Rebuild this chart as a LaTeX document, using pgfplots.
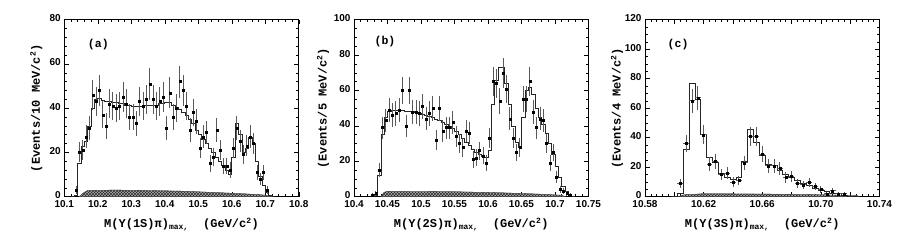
\documentclass[border=0pt]{standalone}
\usepackage{fontspec}
\setmainfont{Liberation Sans}
\setsansfont{Liberation Sans}
\setmonofont{Liberation Mono}
\usepackage{pgfplots}
\pgfplotsset{compat=1.18}
\usetikzlibrary{patterns}

\pgfplotsset{
  panel/.style={
    scale only axis, width=234.5pt, height=177pt,
    anchor=south west,
    axis line style={line width=0.6pt},
    tick align=inside,
    major tick length=4.5pt, minor tick length=2.5pt,
    every tick/.style={black, line width=0.5pt},
    tick label style={font=\sffamily\bfseries\fontsize{10}{11}\selectfont},
    yticklabel style={yshift=1.5pt},
    xticklabel style={yshift=-0.5pt},
    /pgf/number format/assume math mode=true,
    label style={font=\ttfamily\bfseries\fontsize{12}{13}\selectfont},
    x label style={at={(axis description cs:0.5,0)}, anchor=center, yshift=-28pt},
    y label style={at={(axis description cs:0,0.5)}, anchor=center, rotate=0},
    ymin=0,
  },
  pts/.style={only marks, mark=square*, mark size=1pt, black,
    error bars/y dir=both, error bars/y explicit,
    error bars/error bar style={black!65, line width=0.8pt}, error bars/error mark=none},
  fit/.style={const plot, no marks, black!85, line width=0.6pt},
  bkg/.style={draw=black!70, line width=0.3pt, preaction={fill=black!30}, pattern=crosshatch, pattern color=black!85},
}

\begin{document}
\begin{tikzpicture}
\path[use as bounding box] (-64.3pt,-48.3pt) rectangle (840.7pt,196.7pt);

% ---------------- (a) ----------------
\begin{axis}[panel, at={(0pt,0pt)},
  xmin=10.1, xmax=10.8, ymax=80,
  xtick={10.1,10.2,10.3,10.4,10.5,10.6,10.7,10.8},
  xticklabels={10.1,10.2,10.3,10.4,10.5,10.6,10.7,10.8},
  ytick={0,20,40,60,80},
  minor x tick num=4, minor y tick num=4,
  xlabel={M(Υ(1S)π)\textsubscript{max,}\ \ (GeV/c\textsuperscript{2})},
  ylabel={(Events/10 MeV/c\textsuperscript{2})},
  y label style={yshift=28pt},
]
\addplot[bkg] coordinates {(10.145,0)(10.155,1.5)(10.17,2.8)(10.25,3)(10.35,2.8)(10.45,2.5)(10.55,1.9)(10.65,1.2)(10.71,0.6)(10.72,0)} \closedcycle;
\addplot[fit] coordinates {(10.12,0)(10.13,0.5)(10.14,15)(10.15,23)(10.16,25)(10.17,32)(10.18,40)(10.19,44)(10.20,44.5)(10.21,43.5)(10.22,43)(10.23,43)(10.24,42.5)(10.25,42.5)(10.26,42)(10.27,42)(10.28,41.5)(10.29,41.5)(10.30,41)(10.31,41)(10.32,41)(10.33,41)(10.34,41.5)(10.35,41.5)(10.36,41.5)(10.37,41.5)(10.38,42)(10.39,42)(10.40,42.5)(10.41,42.5)(10.42,41.5)(10.43,40.5)(10.44,39.5)(10.45,38)(10.46,37)(10.47,35)(10.48,33)(10.49,30)(10.50,28)(10.51,26)(10.52,24)(10.53,22)(10.54,20)(10.55,18)(10.56,16)(10.57,14)(10.58,12)(10.59,10)(10.60,18)(10.61,33)(10.62,28)(10.63,20)(10.64,22)(10.65,27)(10.66,24)(10.67,16)(10.68,9)(10.69,5)(10.70,2)(10.71,0.5)(10.72,0)(10.73,0)};
\addplot[pts] table[x=x,y=y,y error=e] {
x y e
10.135 3 1.7
10.145 20 4.5
10.155 21 4.6
10.165 27 5.2
10.175 31 5.6
10.185 46 6.8
10.195 43 6.6
10.205 48 6.9
10.215 37 6.1
10.225 32 5.7
10.235 42 6.5
10.245 41 6.4
10.255 40 6.3
10.265 41 6.4
10.275 45 6.7
10.285 42 6.5
10.295 36 6.0
10.305 36 6.0
10.315 33 5.7
10.325 43 6.6
10.335 41 6.4
10.345 44 6.6
10.355 51 7.1
10.365 44 6.6
10.375 41 6.4
10.385 43 6.6
10.395 45 6.7
10.405 31 5.6
10.415 47 6.9
10.425 36 6.0
10.435 40 6.3
10.445 52 7.2
10.455 48 6.9
10.465 41 6.4
10.475 30 5.5
10.485 38 6.2
10.495 34 5.8
10.505 22 4.7
10.515 27 5.2
10.525 29 5.4
10.535 15 3.9
10.545 18 4.2
10.555 30 5.5
10.565 21 4.6
10.575 14 3.7
10.585 14 3.7
10.595 12 3.5
10.605 22 4.7
10.615 31 5.6
10.625 25 5.0
10.635 19 4.4
10.645 23 4.8
10.655 27 5.2
10.665 24 4.9
10.675 11 3.3
10.685 8 2.8
10.695 11 3.3
10.705 3 1.7
};
\node[font=\ttfamily\bfseries\fontsize{11.5}{12}\selectfont] at (rel axis cs:0.145,0.86) {(a)};
\end{axis}

% ---------------- (b) ----------------
\begin{axis}[panel, at={(289.7pt,0pt)},
  xmin=10.4, xmax=10.75, ymax=100,
  xtick={10.4,10.45,10.5,10.55,10.6,10.65,10.7,10.75},
  xticklabels={10.4,10.45,10.5,10.55,10.6,10.65,10.7,10.75},
  ytick={0,20,40,60,80,100},
  minor x tick num=4, minor y tick num=3,
  xlabel={M(Υ(2S)π)\textsubscript{max,}\ \ (GeV/c\textsuperscript{2})},
  ylabel={(Events/5 MeV/c\textsuperscript{2})},
  y label style={yshift=31pt},
]
\addplot[bkg] coordinates {(10.44,0)(10.445,2.5)(10.45,3)(10.55,2.8)(10.62,2.2)(10.68,1.4)(10.71,0.8)(10.715,0)} \closedcycle;
\addplot[fit] coordinates {(10.425,0)(10.430,1)(10.435,12)(10.440,35)(10.445,45)(10.450,48)(10.455,49)(10.460,49)(10.465,49)(10.470,49)(10.475,48.5)(10.480,48)(10.485,48)(10.490,47.5)(10.495,47)(10.500,46.5)(10.505,46)(10.510,45.5)(10.515,45)(10.520,44)(10.525,43)(10.530,42)(10.535,41)(10.540,40)(10.545,38.5)(10.550,37)(10.555,35)(10.560,33)(10.565,31)(10.570,29)(10.575,27)(10.580,25)(10.585,24)(10.590,23)(10.595,22)(10.600,26)(10.605,52)(10.610,66)(10.615,73)(10.620,73)(10.625,64)(10.630,52)(10.635,40)(10.640,31)(10.645,28)(10.650,45)(10.655,60)(10.660,62)(10.665,58)(10.670,50)(10.675,45)(10.680,41)(10.685,36)(10.690,30)(10.695,24)(10.700,17)(10.705,11)(10.710,6)(10.715,3)(10.720,1.5)(10.725,0)(10.730,0)};
\addplot[pts] table[x=x,y=y,y error=e] {
x y e
10.4275 1 1.0
10.4325 2 1.4
10.4375 15 3.9
10.4425 39 6.2
10.4475 43 6.6
10.4525 49 7.0
10.4575 46 6.8
10.4625 47 6.9
10.4675 49 7.0
10.4725 60 7.7
10.4775 40 6.3
10.4825 60 7.7
10.4875 48 6.9
10.4925 48 6.9
10.4975 47 6.9
10.5025 51 7.1
10.5075 44 6.6
10.5125 47 6.9
10.5175 50 7.1
10.5225 32 5.7
10.5275 50 7.1
10.5325 37 6.1
10.5375 39 6.2
10.5425 39 6.2
10.5475 42 6.5
10.5525 34 5.8
10.5575 30 5.5
10.5625 28 5.3
10.5675 37 6.1
10.5725 36 6.0
10.5775 21 4.6
10.5825 22 4.7
10.5875 26 5.1
10.5925 23 4.8
10.5975 19 4.4
10.6025 33 5.7
10.6075 65 8.1
10.6125 64 8.0
10.6175 54 7.3
10.6225 70 8.4
10.6275 61 7.8
10.6325 44 6.6
10.6375 33 5.7
10.6425 25 5.0
10.6475 28 5.3
10.6525 55 7.4
10.6575 55 7.4
10.6625 65 8.1
10.6675 48 6.9
10.6725 39 6.2
10.6775 44 6.6
10.6825 43 6.6
10.6875 30 5.5
10.6925 19 4.4
10.6975 25 5.0
10.7025 11 3.3
10.7075 4 2.0
10.7125 3 1.7
10.7175 2 1.4
10.7225 1 1.0
};
\node[font=\ttfamily\bfseries\fontsize{11.5}{12}\selectfont] at (rel axis cs:0.132,0.875) {(b)};
\end{axis}

% ---------------- (c) ----------------
\begin{axis}[panel, at={(580.7pt,0pt)},
  xmin=10.58, xmax=10.74, ymax=120,
  xtick={10.58,10.60,10.62,10.64,10.66,10.68,10.70,10.72,10.74},
  xticklabels={10.58,,10.62,,10.66,,10.70,,10.74},
  ytick={0,20,40,60,80,100,120},
  minor x tick num=4, minor y tick num=3,
  xlabel={M(Υ(3S)π)\textsubscript{max,}\ \ (GeV/c\textsuperscript{2})},
  ylabel={(Events/4 MeV/c\textsuperscript{2})},
  y label style={yshift=28pt},
]
\addplot[bkg] coordinates {(10.603,0)(10.606,1.2)(10.62,2)(10.66,1.8)(10.70,1.3)(10.725,0.7)(10.726,0)} \closedcycle;
\addplot[fit] coordinates {(10.598,0)(10.602,2)(10.606,32)(10.610,77)(10.614,66)(10.618,42)(10.622,27)(10.626,23)(10.630,16)(10.634,13)(10.638,12)(10.642,13)(10.646,24)(10.650,46)(10.654,37)(10.658,28)(10.662,22)(10.666,21)(10.670,18)(10.674,15)(10.678,13)(10.682,11)(10.686,9)(10.690,8)(10.694,6)(10.698,4.5)(10.702,3.5)(10.706,2.5)(10.710,2)(10.714,1)(10.718,0.5)(10.722,0)(10.726,0)};
\addplot[pts, error bars/x dir=both, error bars/x fixed=0.002] table[x=x,y=y,y error=e] {
x y e
10.604 9 3.0
10.608 36 6.0
10.612 65 8.1
10.616 67 8.2
10.620 42 6.5
10.624 22 4.7
10.628 24 4.9
10.632 15 3.9
10.636 16 4.0
10.640 10 3.2
10.644 11 3.3
10.648 23 4.8
10.652 41 6.4
10.656 41 6.4
10.660 29 5.4
10.664 21 4.6
10.668 21 4.6
10.672 19 4.4
10.676 13 3.6
10.680 14 3.7
10.684 9 3.0
10.688 8 2.8
10.692 9.5 3.1
10.696 7 2.6
10.700 5 2.2
10.704 2 1.4
10.708 4 2.0
10.712 2 1.4
10.716 2 1.4
};
\node[font=\ttfamily\bfseries\fontsize{11.5}{12}\selectfont] at (rel axis cs:0.141,0.86) {(c)};
\end{axis}
\end{tikzpicture}
\end{document}
